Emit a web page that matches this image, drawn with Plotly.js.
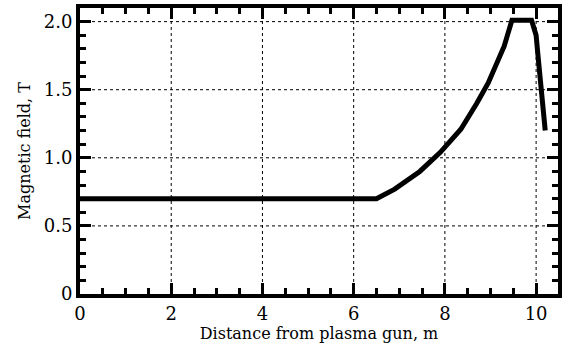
<!DOCTYPE html>
<html>
<head>
<meta charset="utf-8">
<script src="https://cdn.plot.ly/plotly-3.0.1.min.js"></script>
<style>html,body{margin:0;padding:0;background:#fff;}#chart{width:567px;height:354px;}</style>
</head>
<body>
<div id="chart"></div>
<script>
var distance = [0, 6.5, 6.9, 7.45, 7.9, 8.35, 8.7, 8.95, 9.3, 9.47, 9.9, 10.0, 10.05, 10.12, 10.2];
var field = [0.7, 0.7, 0.77, 0.90, 1.04, 1.21, 1.40, 1.55, 1.82, 2.01, 2.01, 1.90, 1.72, 1.48, 1.20];
var xTickVals = [0, 2, 4, 6, 8, 10];
var xTickText = ["0", "2", "4", "6", "8", "10"];
var yTickVals = [0, 0.5, 1.0, 1.5, 2.0];
var yTickText = ["0", "0.5", "1.0", "1.5", "2.0"];

var font = "DejaVu Serif";
var shapes = [];
xTickVals.forEach(function (v) {
  if (v > 0) shapes.push({type: "line", xref: "x", yref: "paper", x0: v, x1: v, y0: 0, y1: 1, layer: "below",
    line: {color: "#000000", width: 1, dash: "3px,3px"}});
});
yTickVals.forEach(function (v) {
  if (v > 0) shapes.push({type: "line", xref: "paper", yref: "y", x0: 0, x1: 1, y0: v, y1: v, layer: "below",
    line: {color: "#000000", width: 1, dash: "3px,3px"}});
});
var layout = {
  width: 567, height: 354,
  font: {family: font, color: "#000000", size: 18},
  margin: {l: 80, r: 9, t: 8, b: 60},
  showlegend: false,
  shapes: shapes,
  xaxis: {
    range: [0, 10.48], tickmode: "array", tickvals: xTickVals, ticktext: xTickText,
    showline: true, linecolor: "#000000", linewidth: 4, mirror: "ticks",
    ticks: "inside", ticklen: 11, tickwidth: 3, tickcolor: "#000000",
    showgrid: false,
    minor: {tickmode: "linear", tick0: 0, dtick: 0.5, ticks: "inside", ticklen: 6, tickwidth: 3, tickcolor: "#000000", showgrid: false},
    title: {text: "Distance from plasma gun, m", font: {size: 16}, standoff: 6}
  },
  yaxis: {
    range: [0, 2.1], tickmode: "array", tickvals: yTickVals, ticktext: yTickText,
    showline: true, linecolor: "#000000", linewidth: 4, mirror: "ticks",
    ticks: "inside", ticklen: 11, tickwidth: 3, tickcolor: "#000000",
    showgrid: false,
    minor: {tickmode: "linear", tick0: 0, dtick: 0.1, ticks: "inside", ticklen: 6, tickwidth: 3, tickcolor: "#000000", showgrid: false},
    title: {text: "Magnetic field, T", font: {size: 16}, standoff: 10}
  }
};
var trace = {
  x: distance, y: field, type: "scatter", mode: "lines",
  line: {color: "#000000", width: 5}
};
Plotly.newPlot("chart", [trace], layout, {displayModeBar: false});
</script>
</body>
</html>
